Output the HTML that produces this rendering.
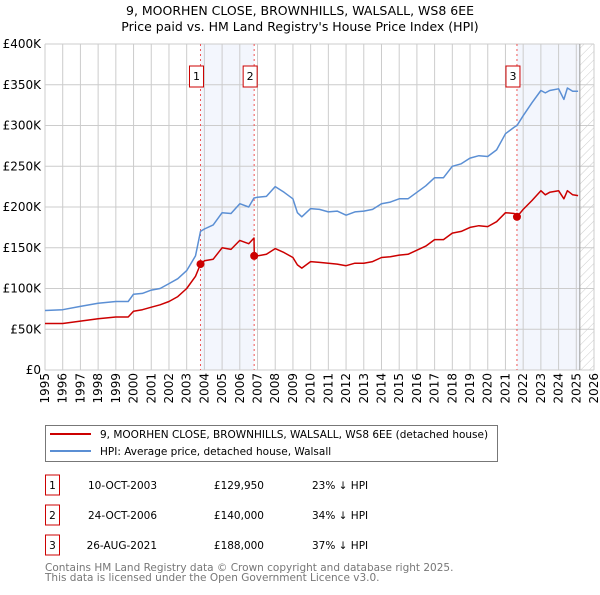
<!DOCTYPE html>
<html><head><meta charset="utf-8"><style>
body{margin:0;background:#fff;}
svg text{font-family:"DejaVu Sans","Liberation Sans",sans-serif;}
</style></head><body>
<svg id="c" width="600" height="590" xmlns="http://www.w3.org/2000/svg">
<defs><pattern id="hatch" width="6" height="6" patternUnits="userSpaceOnUse" patternTransform="rotate(45)"><line x1="0" y1="0" x2="0" y2="6" stroke="#ccc" stroke-width="1"/></pattern></defs>
<text x="300" y="15" text-anchor="middle" font-size="12.5">9, MOORHEN CLOSE, BROWNHILLS, WALSALL, WS8 6EE</text>
<text x="300" y="31" text-anchor="middle" font-size="12.5">Price paid vs. HM Land Registry's House Price Index (HPI)</text>
<g id="plot"></g>
<g>
<rect x="45.5" y="425.5" width="452" height="36" fill="#fff" stroke="#777"/>
<line x1="50" y1="434" x2="91" y2="434" stroke="#cc0000" stroke-width="2"/>
<text x="100" y="438" font-size="10.5">9, MOORHEN CLOSE, BROWNHILLS, WALSALL, WS8 6EE (detached house)</text>
<line x1="50" y1="451" x2="91" y2="451" stroke="#5b8fd4" stroke-width="2"/>
<text x="100" y="455" font-size="10.5">HPI: Average price, detached house, Walsall</text>
</g>
<g id="table" font-size="10.5"></g>
<text x="45" y="571" font-size="10.5" fill="#777">Contains HM Land Registry data © Crown copyright and database right 2025.</text>
<text x="45" y="581" font-size="10.5" fill="#777">This data is licensed under the Open Government Licence v3.0.</text>
</svg>
<script>
const times=[1995,1996,1997,1998,1999,1999.7,2000,2000.5,2001,2001.5,2002,2002.5,2003,2003.5,2003.78,2004,2004.5,2005,2005.5,2006,2006.5,2006.8,2006.82,2007,2007.5,2008,2008.5,2009,2009.25,2009.5,2010,2010.5,2011,2011.5,2012,2012.5,2013,2013.5,2014,2014.5,2015,2015.5,2016,2016.5,2017,2017.5,2018,2018.5,2019,2019.5,2020,2020.5,2021,2021.5,2021.65,2022,2022.5,2023,2023.25,2023.5,2024,2024.3,2024.5,2024.8,2025.1];
const hpiValues=[73,74,78,82,84,84,93,94,98,100,106,112,122,140,170,173,178,193,192,204,200,211,211,212,213,225,218,210,193,188,198,197,194,195,190,194,195,197,204,206,210,210,218,226,236,236,250,253,260,263,262,270,290,298,300,312,328,343,340,343,345,332,346,342,342];
const priceValues=[57,57,60,63,65,65,72,74,77,80,84,90,100,115,130,134,136,150,148,159,155,162,140,140,142,149,144,138,129,125,133,132,131,130,128,131,131,133,138,139,141,142,147,152,160,160,168,170,175,177,176,182,193,192,188,197,208,220,215,218,220,210,220,215,214];
const saleTimes=[2003.78,2006.81,2021.65];
const salePrices=[129.95,140,188];
const saleLabels=["1","2","3"];
const saleDates=["10-OCT-2003","24-OCT-2006","26-AUG-2021"];
const salePriceText=["£129,950","£140,000","£188,000"];
const saleDiff=["23% ↓ HPI","34% ↓ HPI","37% ↓ HPI"];
const yTicks=[0,50,100,150,200,250,300,350,400];
const yTickLabels=["£0","£50K","£100K","£150K","£200K","£250K","£300K","£350K","£400K"];
const xYears=[1995,1996,1997,1998,1999,2000,2001,2002,2003,2004,2005,2006,2007,2008,2009,2010,2011,2012,2013,2014,2015,2016,2017,2018,2019,2020,2021,2022,2023,2024,2025,2026];
const dataEnd=2025.2;

const X0=45,X1=594,Y0=370,Y1=44;
const x=t=>X0+(t-1995)*(X1-X0)/31;
const y=v=>Y0-v*(Y0-Y1)/400;
const NS="http://www.w3.org/2000/svg";
const plot=document.getElementById('plot');
function mk(tag,attrs,parent){const e=document.createElementNS(NS,tag);for(const k in attrs)e.setAttribute(k,attrs[k]);(parent||plot).appendChild(e);return e;}

let s1=mk('rect',{x:x(saleTimes[0]),y:Y1,width:x(saleTimes[1])-x(saleTimes[0]),height:Y0-Y1,fill:'#f3f6fd'});


let s2=mk('rect',{x:x(saleTimes[2]),y:Y1,width:x(dataEnd)-x(saleTimes[2]),height:Y0-Y1,fill:'#f3f6fd'});


let hb=mk('rect',{x:x(dataEnd),y:Y1,width:X1-x(dataEnd),height:Y0-Y1,fill:'url(#hatch)'});



yTicks.forEach((v,i)=>{
  let l=mk('line',{x1:X0,x2:X1,y1:y(v),y2:y(v),stroke:'#cccccc'});
  
  
  let t=mk('text',{x:X0-4,y:y(v)+4,'text-anchor':'end','font-size':'12'});
  t.textContent=yTickLabels[i];
  
  
});
xYears.forEach(yr=>{
  let l=mk('line',{x1:x(yr),x2:x(yr),y1:Y1,y2:Y0,stroke:'#cccccc'});
  
  
  const cx=x(yr)+4,cy=Y0+3;
  let t=mk('text',{x:cx,y:cy,'font-size':'12','text-anchor':'end',transform:`rotate(-90 ${cx} ${cy})`});
  t.textContent=yr;
  
  
});
let el=mk('line',{x1:x(dataEnd),x2:x(dataEnd),y1:Y1,y2:Y0,stroke:'#999'});



saleTimes.forEach((t,i)=>{
  let l=mk('line',{x1:x(t),x2:x(t),y1:Y1,y2:Y0,stroke:'#ee5555','stroke-dasharray':'2,3'});
  
  
  let r=mk('rect',{x:x(t)-11,y:66,width:14,height:21,fill:'#fff',stroke:'#cc0000'});
  
  
  let tx=mk('text',{x:x(t)-4,y:80,'text-anchor':'middle','font-size':'11'});
  tx.textContent=saleLabels[i];
  
  
});

function path(vals,color,name){
  const d=times.map((t,i)=>(i?'L':'M')+x(t).toFixed(1)+','+y(vals[i]).toFixed(1)).join('');
  const p=mk('path',{d:d,fill:'none',stroke:color,'stroke-width':'1.5','stroke-linejoin':'round'});
  
  
}
path(hpiValues,'#5b8fd4','hpi-line');
path(priceValues,'#cc0000','price-paid-line');
saleTimes.forEach((t,i)=>{
  let c=mk('circle',{cx:x(t),cy:y(salePrices[i]),r:4,fill:'#cc0000'});
  
  
});

const tbl=document.getElementById('table');
saleLabels.forEach((lab,i)=>{
  const cy=485+i*30;
  let r=mk('rect',{x:45.5,y:cy-10,width:14,height:20,fill:'none',stroke:'#cc0000'},tbl);
  
  
  const cols=[[52.5,lab,'middle','table-index'],[157,saleDates[i],'end','table-date'],[264,salePriceText[i],'end','table-price'],[312,saleDiff[i],'start','table-hpi-diff']];
  cols.forEach(c=>{
    let t=mk('text',{x:c[0],y:cy+4,'text-anchor':c[2]},tbl);
    t.textContent=c[1];
    
    
  });
});
</script>
</body></html>
